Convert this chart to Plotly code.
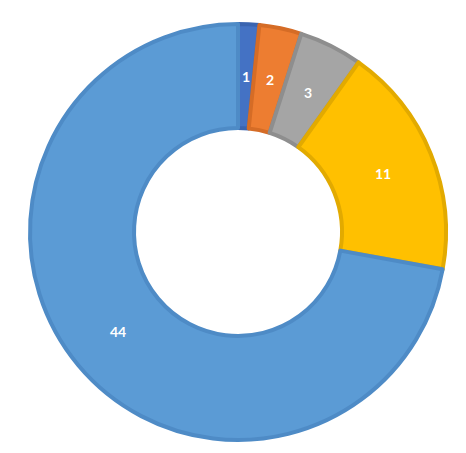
import math
import plotly.graph_objects as go

# Данные диаграммы
labels = ['A', 'B', 'C', 'D', 'E']
values = [1, 2, 3, 11, 44]
fill_colors = ['#4472C4', '#ED7D31', '#A5A5A5', '#FFC000', '#5B9BD5']
line_colors = ['#3A64B0', '#D56C26', '#8E8E8E', '#E2AA00', '#4E8BC6']

W, H = 466, 453
cx, cy, R = 230, 224, 208  # центр и радиус кольца в пикселях (с учётом отступа страницы)

fig = go.Figure()

fig.add_trace(go.Pie(
    labels=labels,
    values=values,
    hole=0.5,
    sort=False,
    direction='clockwise',
    rotation=0,
    textinfo='none',
    domain=dict(x=[(cx - R) / W, (cx + R) / W], y=[1 - (cy + R) / H, 1 - (cy - R) / H]),
    marker=dict(colors=fill_colors, line=dict(color=line_colors, width=4)),
    showlegend=False,
))

# Подписи значений по середине кольца (как в Excel)
total = sum(values)
start = 0
for v in values:
    mid = (start + v / 2) / total * 2 * math.pi
    start += v
    r = 0.75 * R
    fig.add_annotation(
        x=(cx + r * math.sin(mid)) / W, y=1 - (cy - r * math.cos(mid)) / H,
        xref='paper', yref='paper', xanchor='center', yanchor='middle',
        text=str(v), showarrow=False,
        font=dict(family='Lato', size=14, color='white', weight='bold'),
    )

fig.update_layout(
    width=W,
    height=H,
    margin=dict(l=0, r=0, t=0, b=0),
    paper_bgcolor='white',
    plot_bgcolor='white',
)

fig.write_html("out.html")
